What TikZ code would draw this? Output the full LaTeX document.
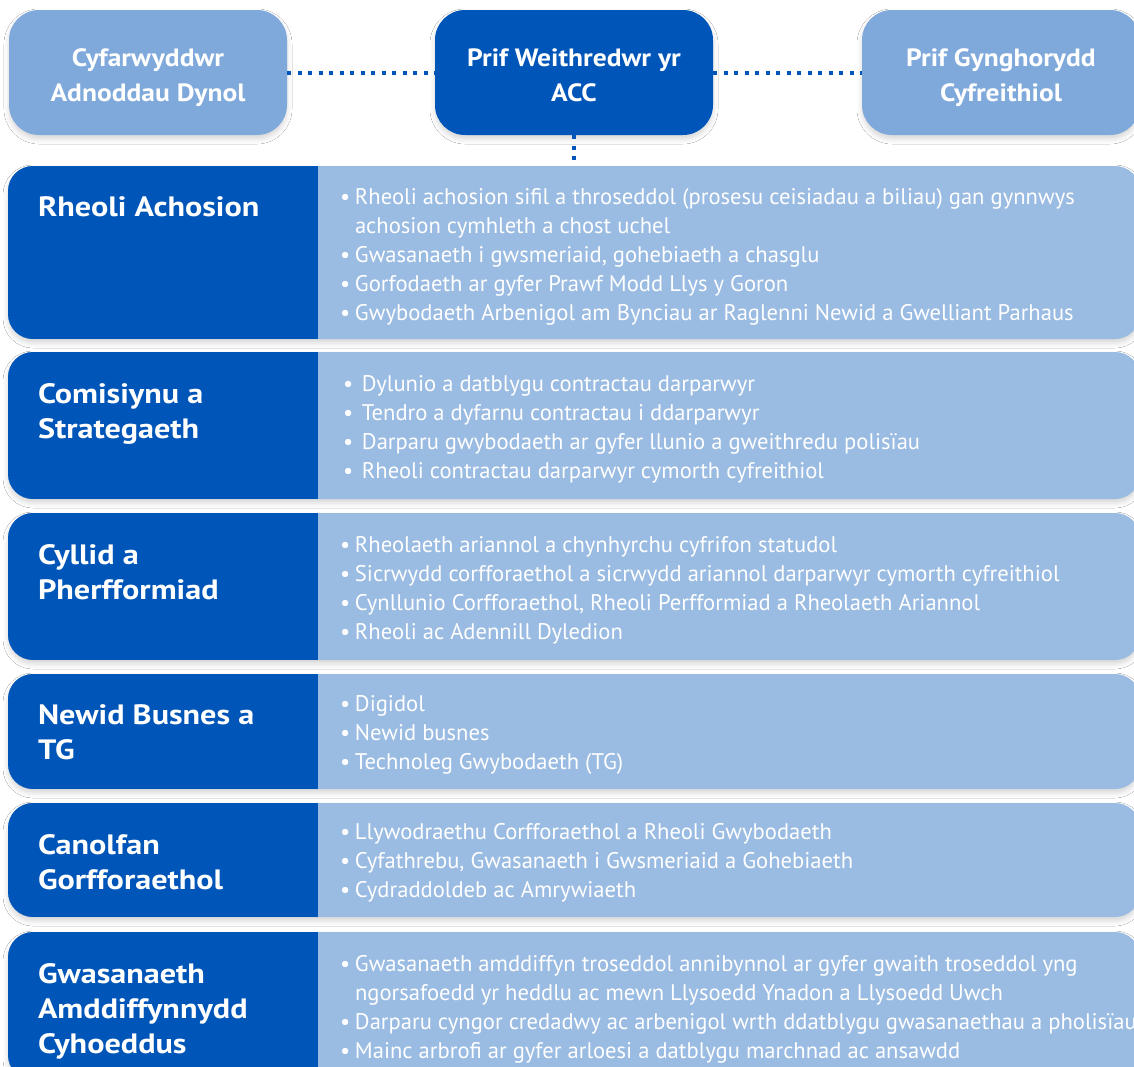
\documentclass[tikz,border=0pt]{standalone}
\usepackage{fontspec}
\setmainfont{PT Sans}
\newfontfamily\headfont{PT Sans}[FakeStretch=1.15]
\newfontfamily\boxfont{PT Sans}[FakeStretch=1.1]
\usetikzlibrary{positioning,shadows.blur}
\definecolor{accblue}{HTML}{0055B8}
\definecolor{acclight}{HTML}{7FA9DB}
\definecolor{accpale}{HTML}{9ABBE2}
\newcommand{\bul}{\makebox[15pt][l]{•}}
\newcommand{\cont}{\hspace*{15pt}}
\newcommand{\twolines}[2]{\raisebox{-10.5pt}[0pt][0pt]{\begin{tabular}{@{}c@{}}#1\\#2\end{tabular}}}
\tikzset{
  soft/.style={blur shadow={shadow xshift=0pt,shadow yshift=-4pt,shadow blur radius=5pt,shadow opacity=16}},
  topbox/.style={soft,rounded corners=30pt,minimum width=278pt,minimum height=125pt,
    inner sep=0pt,text=white,font=\boxfont\bfseries\fontsize{25}{35}\selectfont},
  rowbox/.style={soft,rounded corners=25pt,minimum width=1132pt,inner sep=0pt,fill=accpale,
    path picture={\fill[accblue,sharp corners] (path picture bounding box.north west)
      rectangle ([xshift=310pt]path picture bounding box.south west);}},
  heading/.style={anchor=north west,inner sep=0pt,text=white,align=left,
    font=\headfont\bfseries\fontsize{28}{35}\selectfont},
  items/.style={anchor=west,inner sep=0pt,text=white,align=left,
    font=\fontsize{22.6}{29}\selectfont},
  link/.style={accblue,line width=4pt,dash pattern=on 4pt off 6.5pt}
}
\begin{document}
\begin{tikzpicture}[x=1pt,y=-1pt]
\useasboundingbox (0,0) rectangle (1134,1066);
\fill[white] (0,0) rectangle (1134,1066);
\node[topbox,fill=acclight] (hr) at (148,72.5) {\twolines{Cyfarwyddwr}{Adnoddau Dynol}};
\node[topbox,fill=accblue] (ceo) at (574,72.5) {\twolines{Prif Weithredwr yr}{ACC}};
\node[topbox,fill=acclight] (legal) at (1001,72.5) {\twolines{Prif Gynghorydd}{Cyfreithiol}};
\draw[link] (hr) -- (ceo);
\draw[link] (ceo) -- (legal);

\node[rowbox,minimum height=173pt] (rowA) at (574,252.5) {};
\node[rowbox,minimum height=147pt] (rowB) at (574,425.5) {};
\node[rowbox,minimum height=147pt] (rowC) at (574,586.5) {};
\node[rowbox,minimum height=115pt] (rowD) at (574,731.5) {};
\node[rowbox,minimum height=114pt] (rowE) at (574,860) {};
\node[rowbox,minimum height=148pt] (rowF) at (574,1006) {};
\draw[link] (ceo.south) -- (ceo.south |- rowA.north);

\foreach \r/\txt in {A/Rheoli Achosion,B/Comisiynu a\\Strategaeth,C/Cyllid a\\Pherfformiad,
  D/Newid Busnes a\\TG,E/Canolfan\\Gorfforaethol,F/Gwasanaeth\\Amddiffynnydd\\Cyhoeddus}
  \node[heading] (head\r) at ([xshift=30pt,yshift=-31pt]row\r.north west) {\txt};

\node[items] (listA) at ([xshift=332pt,yshift=-4pt]rowA.west)
  {\bul Rheoli achosion sifil a throseddol (prosesu ceisiadau a biliau) gan gynnwys\\
   \cont achosion cymhleth a chost uchel\\
   \bul Gwasanaeth i gwsmeriaid, gohebiaeth a chasglu\\
   \bul Gorfodaeth ar gyfer Prawf Modd Llys y Goron\\
   \bul Gwybodaeth Arbenigol am Bynciau ar Raglenni Newid a Gwelliant Parhaus};
\node[items] (listB) at ([xshift=335pt,yshift=-4pt]rowB.west)
  {\makebox[19pt][l]{•}Dylunio a datblygu contractau darparwyr\\
   \makebox[19pt][l]{•}Tendro a dyfarnu contractau i ddarparwyr\\
   \makebox[19pt][l]{•}Darparu gwybodaeth ar gyfer llunio a gweithredu polisïau\\
   \makebox[19pt][l]{•}Rheoli contractau darparwyr cymorth cyfreithiol};
\node[items] (listC) at ([xshift=332pt,yshift=-4pt]rowC.west)
  {\bul Rheolaeth ariannol a chynhyrchu cyfrifon statudol\\
   \bul Sicrwydd corfforaethol a sicrwydd ariannol darparwyr cymorth cyfreithiol\\
   \bul Cynllunio Corfforaethol, Rheoli Perfformiad a Rheolaeth Ariannol\\
   \bul Rheoli ac Adennill Dyledion};
\node[items] (listD) at ([xshift=332pt,yshift=-3pt]rowD.west)
  {\bul Digidol\\
   \bul Newid busnes\\
   \bul Technoleg Gwybodaeth (TG)};
\node[items] (listE) at ([xshift=332pt,yshift=-3pt]rowE.west)
  {\bul Llywodraethu Corfforaethol a Rheoli Gwybodaeth\\
   \bul Cyfathrebu, Gwasanaeth i Gwsmeriaid a Gohebiaeth\\
   \bul Cydraddoldeb ac Amrywiaeth};
\node[items,anchor=north west] (listF) at ([xshift=332pt,yshift=-23pt]rowF.north west)
  {\bul Gwasanaeth amddiffyn troseddol annibynnol ar gyfer gwaith troseddol yng\\
   \cont ngorsafoedd yr heddlu ac mewn Llysoedd Ynadon a Llysoedd Uwch\\
   \bul Darparu cyngor credadwy ac arbenigol wrth ddatblygu gwasanaethau a pholisïau\\
   \bul Mainc arbrofi ar gyfer arloesi a datblygu marchnad ac ansawdd};
\end{tikzpicture}
\end{document}
